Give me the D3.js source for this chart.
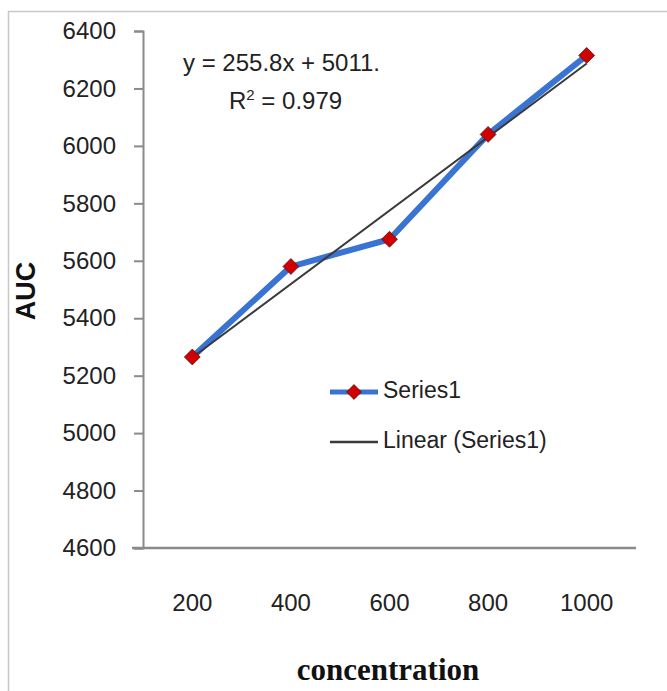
<!DOCTYPE html>
<html>
<head>
<meta charset="utf-8">
<script src="https://cdn.jsdelivr.net/npm/d3@7"></script>
<style>
  html, body { margin: 0; padding: 0; background: #fff; }
</style>
</head>
<body>
<script>
// data
const concentrations = ["200", "400", "600", "800", "1000"];
const aucValues = [5265, 5580, 5675, 6040, 6315];
const yTicks = [4600, 4800, 5000, 5200, 5400, 5600, 5800, 6000, 6200, 6400];
const equationText = "y = 255.8x + 5011.";
const r2Value = "0.979";
const legendLabels = ["Series1", "Linear (Series1)"];

const W = 667, H = 691;
const margin = { top: 31, right: 30, bottom: 143, left: 143 };
const width = 636 - margin.left;
const height = 548 - margin.top;

const tickFont = "'Liberation Sans', Arial, sans-serif";

const root = d3.select("body")
  .append("svg")
  .attr("width", W)
  .attr("height", H);

root.append("rect")
  .attr("width", W)
  .attr("height", H)
  .attr("fill", "white");

// frame around the picture (only top and left visible)
root.append("path")
  .attr("d", `M8.5,${H} V11.5 H${W}`)
  .attr("fill", "none")
  .attr("stroke", "#c8c8c8")
  .attr("stroke-width", 1.5);

const svg = root.append("g")
  .attr("transform", `translate(${margin.left},${margin.top})`);

// scales
const xScale = d3.scaleBand().domain(concentrations).range([0, width]).padding(0);
const yScale = d3.scaleLinear().domain([4600, 6400]).range([height, 0]);
const cx = (d) => xScale(d) + xScale.bandwidth() / 2;

// y axis
const yAxis = svg.append("g")
  .call(d3.axisLeft(yScale).tickValues(yTicks).tickSize(9).tickPadding(18).tickFormat(d3.format("d")));
yAxis.select(".domain").attr("stroke", "#8a8a8a").attr("stroke-width", 2);
yAxis.selectAll(".tick line").attr("stroke", "#8a8a8a").attr("stroke-width", 2);
yAxis.selectAll(".tick text")
  .attr("fill", "#222")
  .style("font-family", tickFont)
  .style("font-size", "24px");

// x axis (category axis, no tick marks)
const xAxis = svg.append("g")
  .attr("transform", `translate(0,${height})`)
  .call(d3.axisBottom(xScale).tickSize(0).tickPadding(57));
xAxis.select(".domain")
  .attr("d", `M-11,0H${width}`)
  .attr("stroke", "#8a8a8a")
  .attr("stroke-width", 2.5);
xAxis.selectAll(".tick text")
  .attr("fill", "#222")
  .attr("dy", "0")
  .attr("dominant-baseline", "middle")
  .style("font-family", tickFont)
  .style("font-size", "24px");

// linear trendline from least squares on x = 1..n
const n = aucValues.length;
const xs = aucValues.map((_, i) => i + 1);
const xMean = d3.mean(xs);
const yMean = d3.mean(aucValues);
const slope = d3.sum(xs, (x, i) => (x - xMean) * (aucValues[i] - yMean)) /
  d3.sum(xs, (x) => (x - xMean) ** 2);
const intercept = yMean - slope * xMean;

const points = concentrations.map((c, i) => ({ c, v: aucValues[i] }));

// series line
svg.append("path")
  .datum(points)
  .attr("fill", "none")
  .attr("stroke", "#3a74d2")
  .attr("stroke-width", 6)
  .attr("stroke-linejoin", "round")
  .attr("d", d3.line().x((d) => cx(d.c)).y((d) => yScale(d.v)));

// trendline on top
svg.append("line")
  .attr("x1", cx(concentrations[0]))
  .attr("y1", yScale(intercept + slope * 1))
  .attr("x2", cx(concentrations[n - 1]))
  .attr("y2", yScale(intercept + slope * n))
  .attr("stroke", "#3a3a3a")
  .attr("stroke-width", 2);

// diamond markers
const diamond = d3.symbol().type(d3.symbolDiamond2).size(160);
svg.selectAll(".marker")
  .data(points)
  .enter()
  .append("path")
  .attr("class", "marker")
  .attr("d", diamond)
  .attr("transform", (d) => `translate(${cx(d.c)},${yScale(d.v)})`)
  .attr("fill", "#d00000")
  .attr("stroke", "#5a1010")
  .attr("stroke-width", 0.8);

// equation label
root.append("text")
  .attr("x", 183)
  .attr("y", 71)
  .attr("fill", "#222")
  .style("font-family", tickFont)
  .style("font-size", "24px")
  .text(equationText);

const r2 = root.append("text")
  .attr("x", 229)
  .attr("y", 109)
  .attr("fill", "#222")
  .style("font-family", tickFont)
  .style("font-size", "24px");
r2.append("tspan").text("R");
r2.append("tspan").attr("dy", -9).style("font-size", "15px").text("2");
r2.append("tspan").attr("dy", 9).text(" = " + r2Value);

// legend
const legend = root.append("g").attr("transform", "translate(330,392)");
legend.append("line")
  .attr("x1", 0).attr("x2", 48).attr("y1", 0).attr("y2", 0)
  .attr("stroke", "#3a74d2").attr("stroke-width", 5);
legend.append("path")
  .attr("d", d3.symbol().type(d3.symbolDiamond2).size(140))
  .attr("transform", "translate(24,0)")
  .attr("fill", "#d00000")
  .attr("stroke", "#5a1010")
  .attr("stroke-width", 0.8);
legend.append("line")
  .attr("x1", 0).attr("x2", 48).attr("y1", 50).attr("y2", 50)
  .attr("stroke", "#3a3a3a").attr("stroke-width", 2.5);
legend.selectAll(".lg")
  .data(legendLabels)
  .enter()
  .append("text")
  .attr("class", "lg")
  .attr("x", 53)
  .attr("y", (d, i) => i * 50)
  .attr("dominant-baseline", "middle")
  .attr("fill", "#222")
  .style("font-family", tickFont)
  .style("font-size", "23px")
  .text((d) => d);

// axis titles
root.append("text")
  .attr("transform", "translate(35,291) rotate(-90)")
  .attr("text-anchor", "middle")
  .attr("fill", "#111")
  .style("font-family", tickFont)
  .style("font-weight", "bold")
  .style("font-size", "27px")
  .text("AUC");

root.append("text")
  .attr("x", 388)
  .attr("y", 680)
  .attr("text-anchor", "middle")
  .attr("fill", "#111")
  .style("font-family", "'Liberation Serif', 'Times New Roman', serif")
  .style("font-weight", "bold")
  .style("font-size", "31px")
  .text("concentration");
</script>
</body>
</html>
